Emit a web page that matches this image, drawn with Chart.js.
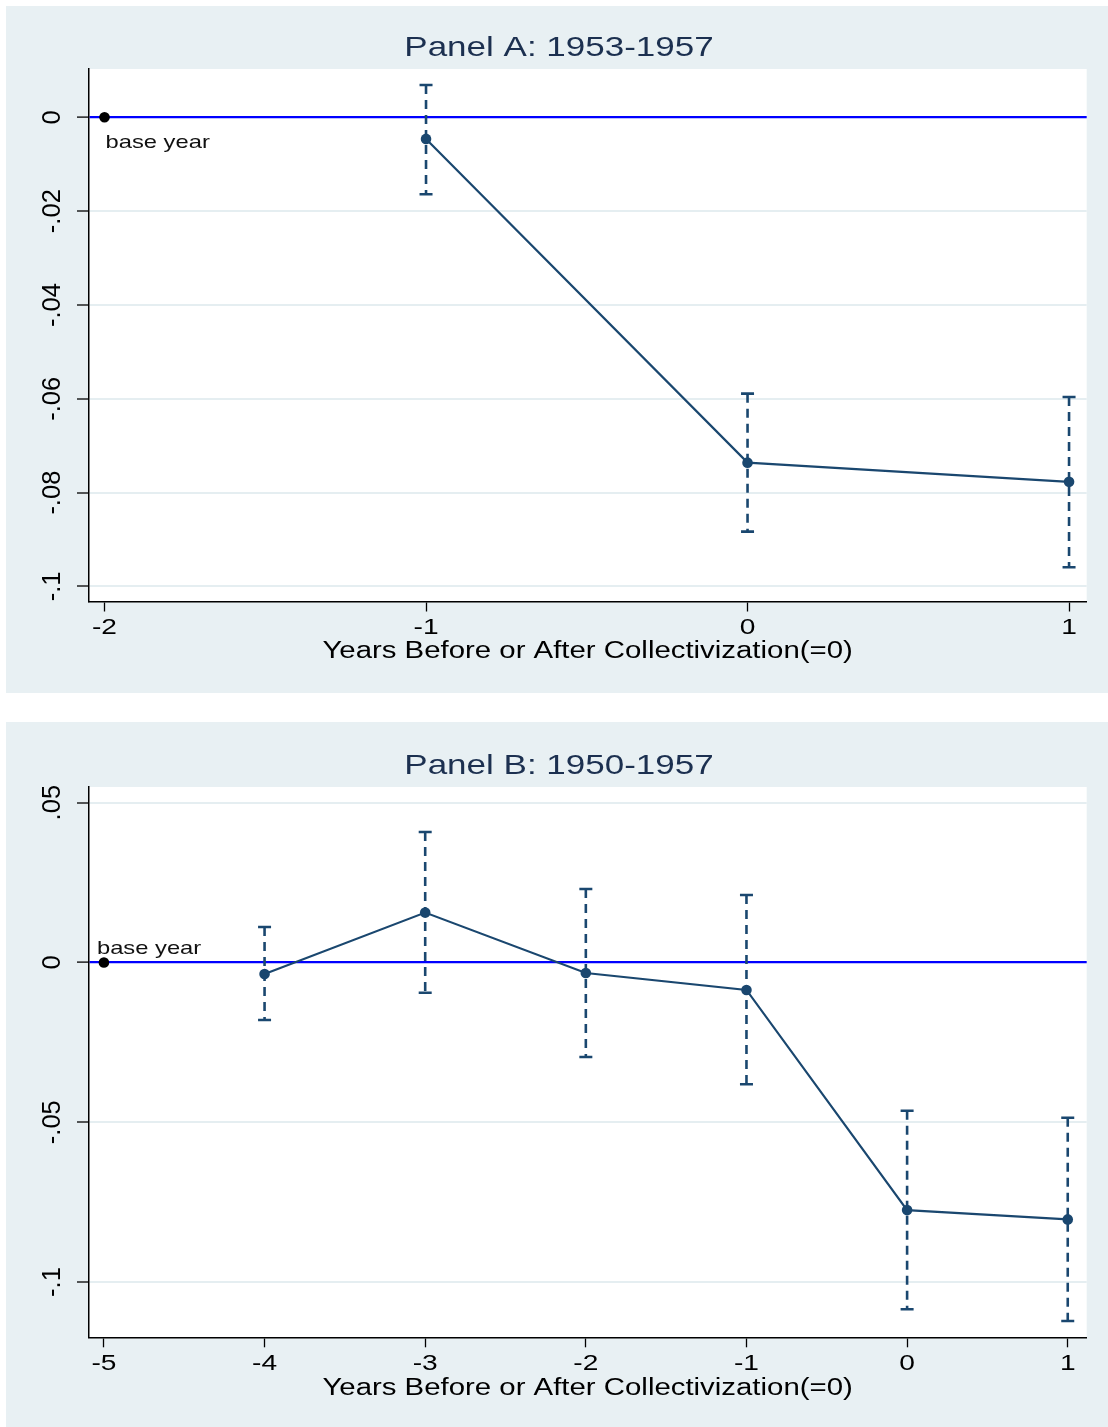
<!DOCTYPE html>
<html>
<head>
<meta charset="utf-8">
<title>Event-study estimates around collectivization</title>
<script src="https://cdn.jsdelivr.net/npm/chart.js@4.4.1/dist/chart.umd.min.js"></script>
<style>
  html, body { margin: 0; padding: 0; background: #ffffff; }
  body { position: relative; width: 1108px; height: 1427px; overflow: hidden; }
  canvas { position: absolute; background: #e8f0f3; }
  #panelA { left: 6px; top: 6px; }
  #panelB { left: 6px; top: 722px; }
</style>
</head>
<body>
<canvas id="panelA" width="1102" height="687"></canvas>
<canvas id="panelB" width="1102" height="705"></canvas>
<script>
// ---- Panel A: 1953-1957 ----
const titleA = 'Panel A: 1953-1957';
const yearsA = [-1, 0, 1];
const coefA = [-0.0046, -0.0736, -0.0777];
const upperA = [0.0069, -0.0589, -0.0596];
const lowerA = [-0.0164, -0.0883, -0.0959];
const baseYearA = -2;
const xTicksA = [-2, -1, 0, 1];
const xLabelsA = ['-2', '-1', '0', '1'];
const yTicksA = [0, -0.02, -0.04, -0.06, -0.08, -0.1];
const yLabelsA = ['0', '-.02', '-.04', '-.06', '-.08', '-.1'];

// ---- Panel B: 1950-1957 ----
const titleB = 'Panel B: 1950-1957';
const yearsB = [-4, -3, -2, -1, 0, 1];
const coefB = [-0.0036, 0.0156, -0.0033, -0.0086, -0.0775, -0.0804];
const upperB = [0.0111, 0.0408, 0.0230, 0.0211, -0.0464, -0.0486];
const lowerB = [-0.0180, -0.0095, -0.0296, -0.0381, -0.1085, -0.1122];
const baseYearB = -5;
const xTicksB = [-5, -4, -3, -2, -1, 0, 1];
const xLabelsB = ['-5', '-4', '-3', '-2', '-1', '0', '1'];
const yTicksB = [0.05, 0, -0.05, -0.1];
const yLabelsB = ['.05', '0', '-.05', '-.1'];

const xAxisTitle = 'Years Before or After Collectivization(=0)';
const baseLabel = 'base year';

// ---- styling ----
const NAVY = '#1a476f';
const ZERO_BLUE = '#0000ff';
const GRID = '#e5eef1';
const TITLE_COLOR = '#1c3050';
const TEXT_STRETCH = 1.25;   // horizontal text is set wide

Chart.defaults.font.family = '"Liberation Sans", Arial, Helvetica, sans-serif';

// Upright text is drawn horizontally widened; rotated labels are left as is.
const wideText = {
  id: 'wideText',
  beforeDraw(chart) {
    const ctx = chart.ctx;
    if (ctx.__wide) return;
    const fill = ctx.fillText.bind(ctx);
    ctx.fillText = function (text, x, y, maxWidth) {
      const m = ctx.getTransform();
      if (Math.abs(m.b) > 1e-6 || Math.abs(m.c) > 1e-6) {
        return maxWidth === undefined ? fill(text, x, y) : fill(text, x, y, maxWidth);
      }
      ctx.save();
      ctx.translate(x, y);
      ctx.scale(TEXT_STRETCH, 1);
      if (maxWidth === undefined) fill(text, 0, 0);
      else fill(text, 0, 0, maxWidth / TEXT_STRETCH);
      ctx.restore();
    };
    ctx.__wide = true;
  }
};

// White plot region inside the tinted graph background.
const plotBackground = {
  id: 'plotBackground',
  beforeDraw(chart) {
    const { ctx, chartArea: a } = chart;
    ctx.save();
    ctx.fillStyle = '#ffffff';
    ctx.fillRect(a.left, a.top, a.right - a.left, a.bottom - a.top);
    ctx.restore();
  }
};

// "base year" note beside the reference-year marker.
const baseNote = {
  id: 'baseNote',
  afterDatasetsDraw(chart, args, opts) {
    const { ctx, scales: { x, y } } = chart;
    const px = x.getPixelForValue(opts.year);
    const py = y.getPixelForValue(0);
    ctx.save();
    ctx.font = '19px "Liberation Sans", Arial, sans-serif';
    ctx.fillStyle = '#111111';
    ctx.textAlign = 'left';
    ctx.textBaseline = 'middle';
    ctx.fillText(opts.text, px + opts.dx, py + opts.dy);
    ctx.restore();
  }
};

function buildPanel(id, p) {
  const estimates = {
    order: 0,
    data: p.years.map((yr, i) => ({ x: yr, y: p.coef[i] })),
    borderColor: NAVY,
    borderWidth: 2.2,
    tension: 0,
    pointRadius: 5.3,
    pointBackgroundColor: NAVY,
    pointBorderColor: NAVY,
    pointBorderWidth: 0
  };
  const basePoint = {
    order: 1,
    data: [{ x: p.baseYear, y: 0 }],
    showLine: false,
    pointRadius: 5.3,
    pointBackgroundColor: '#000000',
    pointBorderColor: '#000000',
    pointBorderWidth: 0
  };
  // 95% intervals: dashed vertical segments capped by line markers
  const intervals = p.years.map((yr, i) => ({
    order: 2,
    data: [{ x: yr, y: p.upper[i] }, { x: yr, y: p.lower[i] }],
    borderColor: NAVY,
    borderWidth: 2.6,
    borderDash: [9, 6],
    pointStyle: 'line',
    pointRadius: 6.5,
    pointBorderWidth: 2.6,
    pointBorderColor: NAVY,
    pointBackgroundColor: NAVY
  }));

  return new Chart(document.getElementById(id), {
    type: 'line',
    data: { datasets: [estimates, basePoint, ...intervals] },
    options: {
      responsive: false,
      animation: false,
      events: [],
      // uneven side padding keeps the heading centred on the graph box
      layout: { padding: { left: 25.3, right: 21.3, top: 0, bottom: 0 } },
      plugins: {
        legend: { display: false },
        tooltip: { enabled: false },
        title: {
          display: true,
          text: p.title,
          color: TITLE_COLOR,
          font: { size: 28, weight: 'normal' },
          padding: { top: p.titleTop, bottom: p.titleBottom }
        },
        baseNote: { year: p.baseYear, text: baseLabel, dx: p.noteDx, dy: p.noteDy }
      },
      scales: {
        x: {
          type: 'linear',
          min: p.xMin,
          max: p.xMax,
          afterBuildTicks: s => { s.ticks = p.xTicks.map(v => ({ value: v })); },
          afterFit: s => { s.height = p.xAxisHeight; },
          grid: { drawOnChartArea: false, tickLength: 10, tickColor: '#000000', tickWidth: 1.3 },
          border: { display: true, color: '#000000', width: 1.5 },
          ticks: {
            color: '#000000',
            font: { size: 22.5 },
            padding: 3,
            maxRotation: 0,
            autoSkip: false,
            callback: (v, i) => p.xLabels[i]
          },
          title: {
            display: true,
            text: xAxisTitle,
            color: '#000000',
            font: { size: 23.5 },
            padding: { top: 0, bottom: p.xTitleBottom }
          }
        },
        y: {
          type: 'linear',
          min: p.yMin,
          max: p.yMax,
          afterBuildTicks: s => { s.ticks = p.yTicks.map(v => ({ value: v })); },
          afterFit: s => { s.width = 57.2; },
          grid: {
            color: c => (c.tick && c.tick.value === 0 ? ZERO_BLUE : GRID),
            lineWidth: c => (c.tick && c.tick.value === 0 ? 2.2 : 2),
            tickLength: 11.5,
            tickColor: '#000000',
            tickWidth: 1.3
          },
          border: { display: true, color: '#000000', width: 1.5 },
          ticks: {
            color: '#000000',
            font: { size: 25.5 },
            padding: 2,
            minRotation: 90,
            maxRotation: 90,
            crossAlign: 'center',
            autoSkip: false,
            callback: (v, i) => p.yLabels[i]
          }
        }
      }
    },
    plugins: [wideText, plotBackground, baseNote]
  });
}

buildPanel('panelA', {
  title: titleA, years: yearsA, coef: coefA, upper: upperA, lower: lowerA,
  baseYear: baseYearA, xTicks: xTicksA, xLabels: xLabelsA, yTicks: yTicksA, yLabels: yLabelsA,
  xMin: -2.0498, xMax: 1.0549, yMin: -0.1032, yMax: 0.0103,
  titleTop: 25.2, titleBottom: 4.2, xAxisHeight: 91.5, xTitleBottom: 27.8,
  noteDx: 1, noteDy: 25.4
});

buildPanel('panelB', {
  title: titleB, years: yearsB, coef: coefB, upper: upperB, lower: lowerB,
  baseYear: baseYearB, xTicks: xTicksB, xLabels: xLabelsB, yTicks: yTicksB, yLabels: yLabelsB,
  xMin: -5.096, xMax: 1.118, yMin: -0.1173, yMax: 0.0549,
  titleTop: 27.2, titleBottom: 4.2, xAxisHeight: 89.7, xTitleBottom: 24.3,
  noteDx: -7, noteDy: -13.9
});
</script>
</body>
</html>
